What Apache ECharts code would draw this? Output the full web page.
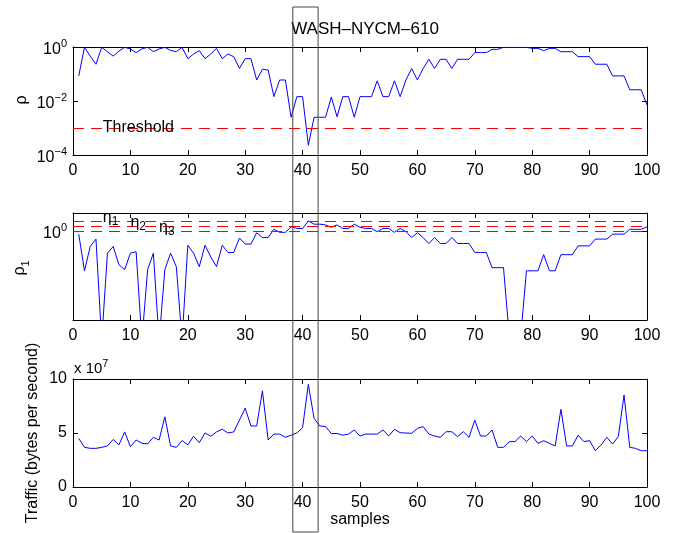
<!DOCTYPE html>
<html><head><meta charset="utf-8">
<script src="https://cdn.jsdelivr.net/npm/echarts@6/dist/echarts.min.js"></script>
<style>html,body{margin:0;padding:0;background:#fff}#c{width:676px;height:533px}</style>
</head><body><div id="c"></div>
<script>
const samples = [1,2,3,4,5,6,7,8,9,10,11,12,13,14,15,16,17,18,19,20,21,22,23,24,25,26,27,28,29,30,31,32,33,34,35,36,37,38,39,40,41,42,43,44,45,46,47,48,49,50,51,52,53,54,55,56,57,58,59,60,61,62,63,64,65,66,67,68,69,70,71,72,73,74,75,76,77,78,79,80,81,82,83,84,85,86,87,88,89,90,91,92,93,94,95,96,97,98,99,100];

const rho = [0.085,0.97,0.46,0.23,0.97,0.67,0.46,0.7,0.97,0.85,
  0.62,0.85,0.97,0.67,0.85,0.97,0.75,0.67,0.97,0.37,
  0.55,0.73,0.37,0.55,0.89,0.37,0.55,0.44,0.16,0.37,
  0.37,0.06,0.15,0.14,0.0145,0.06,0.06,0.0025,0.0145,0.0145,
  0.00023,0.0025,0.0025,0.0025,0.014,0.0026,0.0145,0.0145,0.0025,0.0145,
  0.0145,0.0145,0.056,0.0145,0.0145,0.056,0.0145,0.06,0.16,0.06,
  0.16,0.35,0.16,0.35,0.35,0.16,0.35,0.35,0.35,0.62,
  0.62,0.62,0.82,0.82,0.97,0.97,0.97,0.97,0.97,0.89,
  0.89,0.73,0.89,0.89,0.67,0.67,0.67,0.44,0.44,0.44,
  0.23,0.23,0.23,0.085,0.085,0.085,0.026,0.026,0.026,0.0071];

const rho1 = [0.93,0.40,0.70,0.83,0.08,0.60,0.70,0.46,0.41,0.60,
  0.62,0.08,0.41,0.60,0.08,0.41,0.60,0.44,0.08,0.72,
  0.60,0.44,0.72,0.55,0.44,0.72,0.61,0.61,0.85,0.74,
  0.74,0.96,0.86,0.86,1.04,0.97,0.97,1.10,1.06,1.06,
  1.26,1.17,1.17,1.15,1.09,1.15,1.06,1.06,1.17,1.09,
  1.06,1.06,0.985,1.06,1.06,0.97,1.06,0.985,0.86,0.96,
  0.86,0.75,0.86,0.75,0.75,0.86,0.75,0.75,0.75,0.61,
  0.61,0.61,0.43,0.43,0.43,0.09,0.08,0.09,0.40,0.40,
  0.40,0.58,0.40,0.40,0.58,0.58,0.58,0.71,0.71,0.71,
  0.83,0.83,0.83,0.93,0.93,0.93,1.04,1.04,1.04,1.10];

const traffic = [4.5e7,3.67e7,3.58e7,3.58e7,3.67e7,3.8e7,4.4e7,3.9e7,5.1e7,3.73e7,
  4.35e7,4.05e7,4.0e7,4.6e7,4.35e7,6.5e7,3.8e7,3.67e7,4.3e7,3.9e7,
  4.7e7,4.1e7,5.0e7,4.7e7,5.1e7,5.35e7,5.0e7,5.1e7,6.2e7,7.3e7,
  5.65e7,5.65e7,8.9e7,4.35e7,4.9e7,4.9e7,4.6e7,4.8e7,5.0e7,5.5e7,
  9.5e7,6.35e7,5.65e7,5.6e7,4.95e7,4.95e7,4.8e7,4.9e7,5.28e7,4.72e7,
  4.9e7,4.9e7,4.9e7,5.28e7,4.72e7,5.34e7,5.03e7,5.0e7,4.97e7,5.43e7,
  5.59e7,4.9e7,4.72e7,4.6e7,5.12e7,5.12e7,4.66e7,5.12e7,4.6e7,6.2e7,
  4.72e7,4.72e7,5.28e7,3.67e7,3.67e7,4.2e7,4.2e7,4.72e7,4.2e7,4.72e7,
  4.04e7,4.29e7,4.04e7,3.8e7,7.19e7,3.8e7,3.8e7,4.8e7,4.2e7,4.29e7,
  3.36e7,3.89e7,4.6e7,3.98e7,4.66e7,8.52e7,3.67e7,3.58e7,3.36e7,3.36e7];

const threshold = 1e-3;
const etas = [1.27, 1.13, 1.0];
const etaLabels = ['1', '2', '3'];
const xTicks = [0,10,20,30,40,50,60,70,80,90,100];
const rhoTicksExp = [-4, -2, 0];
const rho1TicksExp = [0];
const trafficTicks = [0, 5e7, 10e7];
const highlight = [38.3, 42.7];
const titleText = 'WASH\u2013NYCM\u2013610';

const FONT = 'Liberation Sans, Arial, Helvetica, sans-serif';
const BLUE = '#0000ff';
const RED = '#ff0000';
const grids = [
  {left: 73, top: 47, width: 574, height: 108},
  {left: 73, top: 213, width: 574, height: 107},
  {left: 73, top: 379, width: 574, height: 108}
];
const supRich = {b: {fontSize: 16, fontFamily: FONT, color: '#000', padding: [6,0,0,0]}, s: {fontSize: 11, fontFamily: FONT, color: '#000', padding: [0,0,6,0]}};
function expFmt(v) {
  const e = Math.round(v);
  return '{b|10}{s|' + (e < 0 ? '\u2212' + (-e) : e) + '}';
}
const xAxes = [], yAxes = [];
const yCfg = [
  {min: -4, max: 0, custom: rhoTicksExp, fmt: expFmt, rich: supRich},
  {min: -0.89, max: 0.18, custom: rho1TicksExp, fmt: expFmt, rich: supRich},
  {min: 0, max: 1e8, custom: trafficTicks, fmt: v => String(Math.round(v / 1e7)), rich: {}}
];
grids.forEach((g, i) => {
  const base = {gridIndex: i, type: 'value', min: 0, max: 100,
    axisLine: {show: true, onZero: false, lineStyle: {color: '#000', width: 1}},
    axisTick: {show: true, inside: true, length: 5, lineStyle: {color: '#000'}, customValues: xTicks},
    splitLine: {show: false}};
  xAxes.push(Object.assign({}, base, {position: 'bottom',
    axisLabel: {show: true, customValues: xTicks, fontSize: 16, fontFamily: FONT, color: '#000', margin: 8}}));
  xAxes.push(Object.assign({}, base, {position: 'top', axisLabel: {show: false}}));
  const c = yCfg[i];
  const ybase = {gridIndex: i, type: 'value', min: c.min, max: c.max,
    axisLine: {show: true, onZero: false, lineStyle: {color: '#000', width: 1}},
    axisTick: {show: true, inside: true, length: 5, lineStyle: {color: '#000'}, customValues: c.custom},
    splitLine: {show: false}};
  yAxes.push(Object.assign({}, ybase, {position: 'left',
    axisLabel: {show: true, customValues: c.custom, formatter: c.fmt, rich: c.rich, fontSize: 16, fontFamily: FONT, color: '#000', margin: 6}}));
  yAxes.push(Object.assign({}, ybase, {position: 'right', axisLabel: {show: false}}));
});

function dashedMark(values) {
  return {silent: true, symbol: 'none', animation: false,
    label: {show: false},
    lineStyle: {color: RED, width: 1, type: [11, 7]},
    data: values.map(v => ({yAxis: v}))};
}

const series = [
  {type: 'line', xAxisIndex: 0, yAxisIndex: 0, showSymbol: false, clip: true,
   data: samples.map((s, i) => [s, Math.log10(rho[i])]),
   lineStyle: {color: BLUE, width: 1}, itemStyle: {color: BLUE},
   markLine: dashedMark([Math.log10(threshold)]), z: 3},
  {type: 'line', xAxisIndex: 2, yAxisIndex: 2, showSymbol: false, clip: true,
   data: samples.map((s, i) => [s, Math.log10(rho1[i])]),
   lineStyle: {color: BLUE, width: 1}, itemStyle: {color: BLUE},
   markLine: dashedMark(etas.map(v => Math.log10(v))), z: 3},
  {type: 'line', xAxisIndex: 4, yAxisIndex: 4, showSymbol: false, clip: true,
   data: samples.map((s, i) => [s, traffic[i]]),
   lineStyle: {color: BLUE, width: 1}, itemStyle: {color: BLUE}, z: 3}
];

const chart = echarts.init(document.getElementById('c'), null, {renderer: 'canvas'});
chart.setOption({
  animation: false,
  backgroundColor: '#fff',
  grid: grids,
  xAxis: xAxes,
  yAxis: yAxes,
  series: series
});

const px = v => chart.convertToPixel({xAxisIndex: 0}, v);
const pyTop = v => chart.convertToPixel({yAxisIndex: 0}, v);
const pyMid = v => chart.convertToPixel({yAxisIndex: 2}, v);
const x1 = px(highlight[0]), x2 = px(highlight[1]);
const txt = (x, y, text, extra) => ({type: 'text', x: x, y: y, z: 10,
  style: Object.assign({text: text, fontSize: 16, fontFamily: FONT, fill: '#000'}, extra || {})});
const graphics = [
  {type: 'rect', z: 20, shape: {x: x1, y: 7, width: x2 - x1, height: 525}, style: {fill: 'none', stroke: '#444', lineWidth: 1}},
  txt(365, 29, titleText, {fontSize: 17, align: 'center', verticalAlign: 'middle'}),
  txt(px(5.2), pyTop(Math.log10(threshold)), 'Threshold', {align: 'left', verticalAlign: 'middle'}),
  {type: 'text', x: 22, y: 100, rotation: Math.PI / 2, z: 10,
   style: {text: '\u03c1', fontSize: 16, fontFamily: FONT, fill: '#000', align: 'center', verticalAlign: 'middle'}},
  {type: 'text', x: 22, y: 268, rotation: Math.PI / 2, z: 10,
   style: {text: '{a|\u03c1}{s|1}', fontSize: 16, fontFamily: FONT, fill: '#000', align: 'center', verticalAlign: 'middle',
     rich: {a: {fontSize: 16, fontFamily: FONT, padding: [0,0,4,0]}, s: {fontSize: 11, fontFamily: FONT, padding: [8,0,0,0]}}}},
  {type: 'text', x: 33, y: 433, rotation: Math.PI / 2, z: 10,
   style: {text: 'Traffic (bytes per second)', fontSize: 16, fontFamily: FONT, fill: '#000', align: 'center', verticalAlign: 'middle'}},
  txt(360, 520, 'samples', {align: 'center', verticalAlign: 'middle'}),
  {type: 'text', x: 74, y: 367, z: 10,
   style: {text: '{b|x 10}{s|7}', fontSize: 16, fontFamily: FONT, fill: '#000', align: 'left', verticalAlign: 'middle',
     rich: {b: {fontSize: 15, fontFamily: FONT, padding: [4,0,0,0]}, s: {fontSize: 11, fontFamily: FONT, padding: [0,0,6,0]}}}}
];
const etaX = [5.2, 10, 15];
etas.forEach((v, i) => {
  graphics.push({type: 'text', x: px(etaX[i]), y: pyMid(Math.log10(v)) - 3, z: 10,
    style: {text: '{a|\u03b7}{s|' + etaLabels[i] + '}', fontSize: 16, fontFamily: FONT, fill: '#000', align: 'left', verticalAlign: 'middle',
      rich: {a: {fontSize: 16, fontFamily: FONT}, s: {fontSize: 12, fontFamily: FONT, padding: [8,0,0,0]}}}});
});
chart.setOption({graphic: graphics});
</script>
</body></html>
